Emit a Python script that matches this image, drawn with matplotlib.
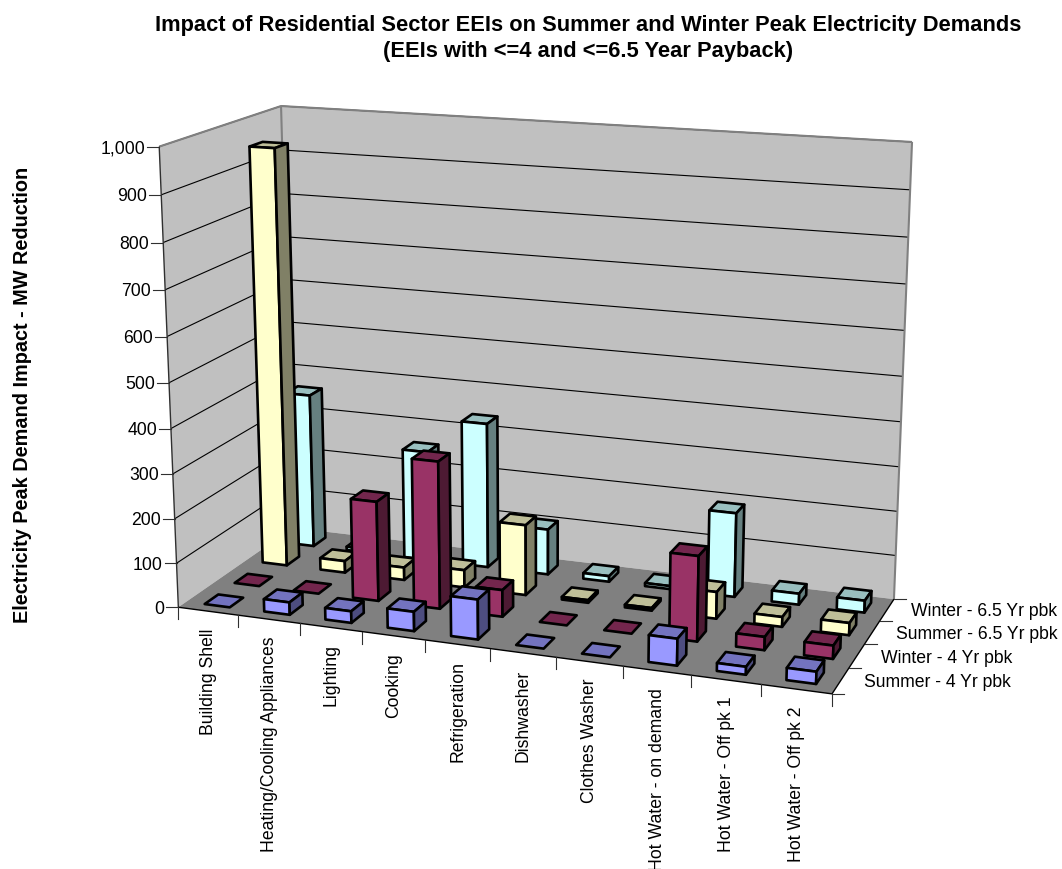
import numpy as np
import matplotlib
matplotlib.use("Agg")
import matplotlib.pyplot as plt
from matplotlib.collections import PolyCollection

categories = ["Building Shell", "Heating/Cooling Appliances", "Lighting", "Cooking",
              "Refrigeration", "Dishwasher", "Clothes Washer", "Hot Water - on demand",
              "Hot Water - Off pk 1", "Hot Water - Off pk 2"]
series_names = ["Summer - 4 Yr pbk", "Winter - 4 Yr pbk", "Summer - 6.5 Yr pbk", "Winter - 6.5 Yr pbk"]

summer_4 = [0, 28, 26, 43, 88, 0, 0, 58, 17, 26]
winter_4 = [0, 0, 225, 330, 60, 0, 0, 187, 29, 29]
summer_65 = [950, 27, 29, 40, 160, 6, 6, 60, 22, 27]
winter_65 = [360, 8, 255, 335, 105, 13, 7, 191, 25, 27]
values = [summer_4, winter_4, summer_65, winter_65]

y_ticks = list(range(0, 1001, 100))
y_max = 1000
colors = ["#9999FF", "#993366", "#FFFFCC", "#CCFFFF"]

# unit box corners (category, series, value) -> pixel position on the figure
anchors = [((0, 0, 0), (178, 607)), ((1, 0, 0), (832, 694)), ((0, 1, 0), (293, 528)),
           ((1, 1, 0), (894, 599)), ((0, 0, 1), (159, 146.5)), ((0, 1, 1), (281, 106)),
           ((1, 1, 1), (912, 142)), ((0, 0, 0.5), (169.6, 383))]


def fit_camera(pairs):
    rows, rhs = [], []
    for (u, v, w), (x, y) in pairs:
        rows.append([u, v, w, 1, 0, 0, 0, 0, -x * u, -x * v, -x * w])
        rows.append([0, 0, 0, 0, u, v, w, 1, -y * u, -y * v, -y * w])
        rhs += [x, y]
    p = np.linalg.lstsq(np.array(rows, float), np.array(rhs, float), rcond=None)[0]
    return np.append(p, 1).reshape(3, 4)


cam = fit_camera(anchors)


def project(u, v, w):
    x, y, d = cam @ np.array([u, v, w, 1.0])
    return x / d, y / d


def shade(col, f):
    rgb = np.array(matplotlib.colors.to_rgb(col))
    return tuple(rgb * f)


fig = plt.figure(figsize=(10.62, 8.69), dpi=100)
ax = fig.add_axes([0, 0, 1, 1])
ax.set_xlim(0, 1062)
ax.set_ylim(869, 0)
ax.axis("off")
plt.rcParams["font.family"] = ["Liberation Sans", "DejaVu Sans"]
font = 12.7

# walls and floor
wall = "#C0C0C0"
ax.fill(*zip(project(0, 0, 0), project(0, 1, 0), project(0, 1, 1), project(0, 0, 1)), fc=wall, ec="none")
ax.fill(*zip(project(0, 1, 0), project(1, 1, 0), project(1, 1, 1), project(0, 1, 1)), fc=wall, ec="none")
ax.fill(*zip(project(0, 0, 0), project(1, 0, 0), project(1, 1, 0), project(0, 1, 0)), fc="#808080", ec="none")


def seg(a, b, **kw):
    p, q = project(*a), project(*b)
    ax.plot([p[0], q[0]], [p[1], q[1]], solid_capstyle="butt", **kw)


for t in y_ticks[1:]:
    w = t / y_max
    seg((0, 0, w), (0, 1, w), color="black", lw=0.8)
    seg((0, 1, w), (1, 1, w), color="black", lw=0.8)

edge = dict(color="#808080", lw=1.5)
seg((0, 0, 1), (0, 1, 1), **edge)
seg((0, 1, 1), (1, 1, 1), **edge)
seg((0, 1, 0), (0, 1, 1), **edge)
seg((1, 1, 0), (1, 1, 1), **edge)
seg((0, 0, 0), (0, 0, 1), color="#303030", lw=1.0)
seg((0, 0, 0), (1, 0, 0), color="black", lw=1.0)
seg((1, 0, 0), (1, 1, 0), color="black", lw=1.0)

# value axis
for t in y_ticks:
    x, y = project(0, 0, t / y_max)
    ax.plot([x - 12, x], [y, y], color="#303030", lw=0.8)
    ax.text(x - 14, y, f"{t:,}", ha="right", va="center_baseline", fontsize=font)

# category axis
n_cat, n_ser = len(categories), len(series_names)
for i in range(n_cat + 1):
    x, y = project(i / n_cat, 0, 0)
    ax.plot([x, x], [y, y + 12], color="#303030", lw=0.8)
for i, name in enumerate(categories):
    x, y = project((i + 0.5) / n_cat, 0, 0)
    ax.text(x + 0.5, y + 17, name, rotation=90, ha="center", va="top", fontsize=font)

# series axis
for i in range(n_ser + 1):
    x, y = project(1, i / n_ser, 0)
    ax.plot([x, x + 12], [y, y], color="#303030", lw=0.8)
for i, name in enumerate(series_names):
    x, y = project(1, (i + 0.5) / n_ser, 0)
    ax.text(x + 24, y, name, ha="left", va="center_baseline", fontsize=font)

# bars, back row first so the nearer ones cover them
bar_w, bar_d = 0.42, 0.45
for s in range(n_ser - 1, -1, -1):
    for c in range(n_cat):
        h = values[s][c] / y_max
        u0 = (c + 0.5 - bar_w / 2) / n_cat
        u1 = (c + 0.5 + bar_w / 2) / n_cat
        v0 = (s + 0.5 - bar_d / 2) / n_ser
        v1 = (s + 0.5 + bar_d / 2) / n_ser
        top = [project(u0, v0, h), project(u1, v0, h), project(u1, v1, h), project(u0, v1, h)]
        front = [project(u0, v0, 0), project(u1, v0, 0), project(u1, v0, h), project(u0, v0, h)]
        side = [project(u1, v0, 0), project(u1, v1, 0), project(u1, v1, h), project(u1, v0, h)]
        faces, fills = [top], [shade(colors[s], 0.75)]
        if h > 0:
            faces += [front, side]
            fills += [colors[s], shade(colors[s], 0.5)]
        ax.add_collection(PolyCollection(faces, facecolors=fills, edgecolors="black",
                                         linewidths=1.9, joinstyle="round", zorder=3 + (n_ser - s)))

title_font = 15.75
ax.text(588, 25, "Impact of Residential Sector EEIs on Summer and Winter Peak Electricity Demands",
        ha="center", va="center", fontsize=title_font, fontweight="bold")
ax.text(588, 52, "(EEIs with <=4 and <=6.5 Year Payback)",
        ha="center", va="center", fontsize=title_font, fontweight="bold")
ax.text(22.5, 395, "Electricity Peak Demand Impact - MW Reduction", rotation=90,
        ha="center", va="center", fontsize=14.3, fontweight="bold")

fig.savefig("out.png", dpi=100)
